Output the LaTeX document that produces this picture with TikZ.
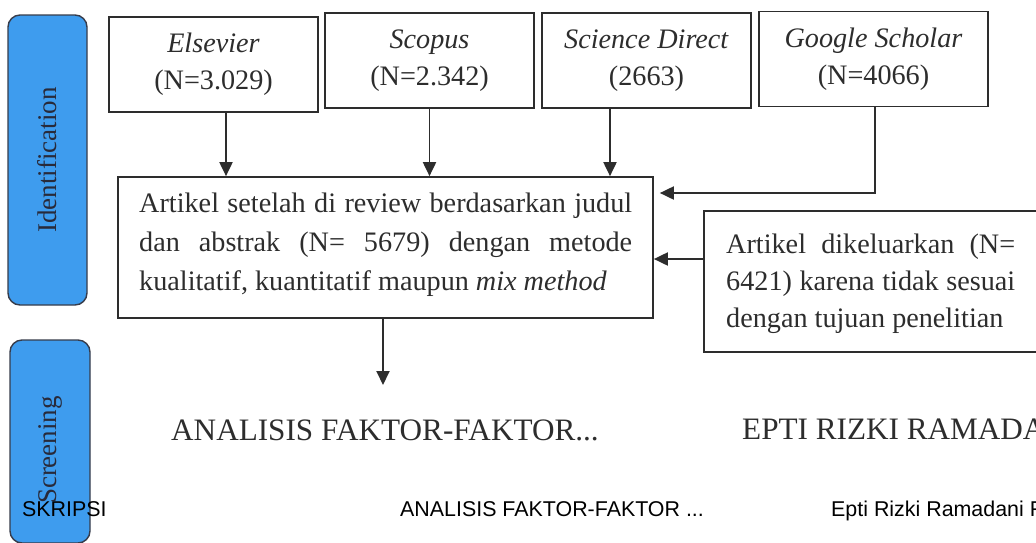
\documentclass[tikz,border=0pt]{standalone}
\usepackage{fontspec}
\setmainfont{Liberation Serif}
\newfontfamily\footfont{Liberation Sans}
\usetikzlibrary{arrows.meta}
\definecolor{ink}{RGB}{45,45,45}
\definecolor{pillblue}{RGB}{62,156,238}
\definecolor{pillline}{RGB}{55,60,75}
\definecolor{pillink}{RGB}{40,42,58}
\begin{document}
\begin{tikzpicture}[x=1pt,y=-1pt,
  box/.style={draw=ink,line width=1.7pt,inner sep=0pt},
  src/.style={box,align=center,text=ink,font=\fontsize{28.2}{37}\selectfont,minimum height=95pt},
  conn/.style={draw=ink,line width=1.9pt,-{Triangle[length=14pt,width=13pt]}},
  pill/.style={draw=pillline,line width=1.4pt,fill=pillblue,rounded corners=12pt,inner sep=0pt,rotate=90},
  pilltext/.style={rotate=90,text=pillink,font=\fontsize{27}{27}\selectfont,inner sep=0pt},
  bodytext/.style={anchor=base west,inner sep=0pt,text=ink},
  bigtext/.style={anchor=base west,inner sep=0pt,text=ink,font=\fontsize{31.2}{31.2}\selectfont},
  foot/.style={anchor=base west,inner sep=0pt,text=black,font=\footfont\fontsize{21.4}{21.4}\selectfont}]
\useasboundingbox (0,0) rectangle (1036,542);
\clip (0,0) rectangle (1036,542);
\fill[white] (0,0) rectangle (1036,542);

% side pills
\node[pill,minimum width=290pt,minimum height=79pt] (ident) at (47.5,160) {};
\node[pilltext] (identtxt) at (ident.center) {Identification};
\node[pill,minimum width=203pt,minimum height=80pt] (screen) at (50,441.5) {};
\node[pilltext] (screentxt) at (50,450) {Screening};

% source boxes
\node[src,minimum width=209pt] (els) at (213.5,64.5) {\textit{Elsevier}\\(N=3.029)};
\node[src,minimum width=209pt] (sco) at (429.5,60.5) {\textit{Scopus}\\(N=2.342)};
\node[src,minimum width=209pt] (sd) at (646.5,60.5) {\textit{Science Direct}\\(2663)};
\node[src,minimum width=229pt] (gs) at (873.5,59) {\textit{Google Scholar}\\(N=4066)};

% review box
\node[box,minimum width=535pt,minimum height=141pt] (main) at (385.5,247.5) {};
\node[bodytext] (maintxt) at (139,212) {\parbox[t]{493pt}{\fontsize{28.2}{39}\selectfont
\makebox[\linewidth][s]{Artikel setelah di review berdasarkan judul}\\
\makebox[\linewidth][s]{dan abstrak (N= 5679) dengan metode}\\
kualitatif, kuantitatif maupun \textit{mix method}}};

% excluded box
\node[box,minimum width=345pt,minimum height=141pt] (excl) at (876.5,281.5) {};
\node[bodytext] (excltxt) at (726,253) {\parbox[t]{289pt}{\fontsize{28.2}{37}\selectfont
\makebox[\linewidth][s]{Artikel dikeluarkan (N=}\\
\makebox[\linewidth][s]{6421) karena tidak sesuai}\\
dengan tujuan penelitian}};

% connectors
\coordinate (gy) at (0,193);
\coordinate (ry) at (0,259);
\coordinate (dn) at (383,385);
\draw[conn] ([xshift=12.5pt]els.south) -- ([xshift=12.5pt]els.south |- main.north);
\draw[conn] (sco.south) -- (sco.south |- main.north);
\draw[conn] ([xshift=-36.5pt]sd.south) -- ([xshift=-36.5pt]sd.south |- main.north);
\draw[conn,shorten >=6pt] ([xshift=1.5pt]gs.south) |- (main.east |- gy);
\draw[conn] (excl.west |- ry) -- (main.east |- ry);
\draw[conn] (main.south -| dn) -- (dn);

% page texts
\node[bigtext] (t1) at (171,440) {ANALISIS FAKTOR-FAKTOR...};
\node[bigtext] (t2) at (742,439) {EPTI RIZKI RAMADA};
\node[foot] (f1) at (22,516) {SKRIPSI};
\node[foot] (f2) at (400,516) {ANALISIS FAKTOR-FAKTOR ...};
\node[foot] (f3) at (831,516) {Epti Rizki Ramadani F};
\end{tikzpicture}
\end{document}
